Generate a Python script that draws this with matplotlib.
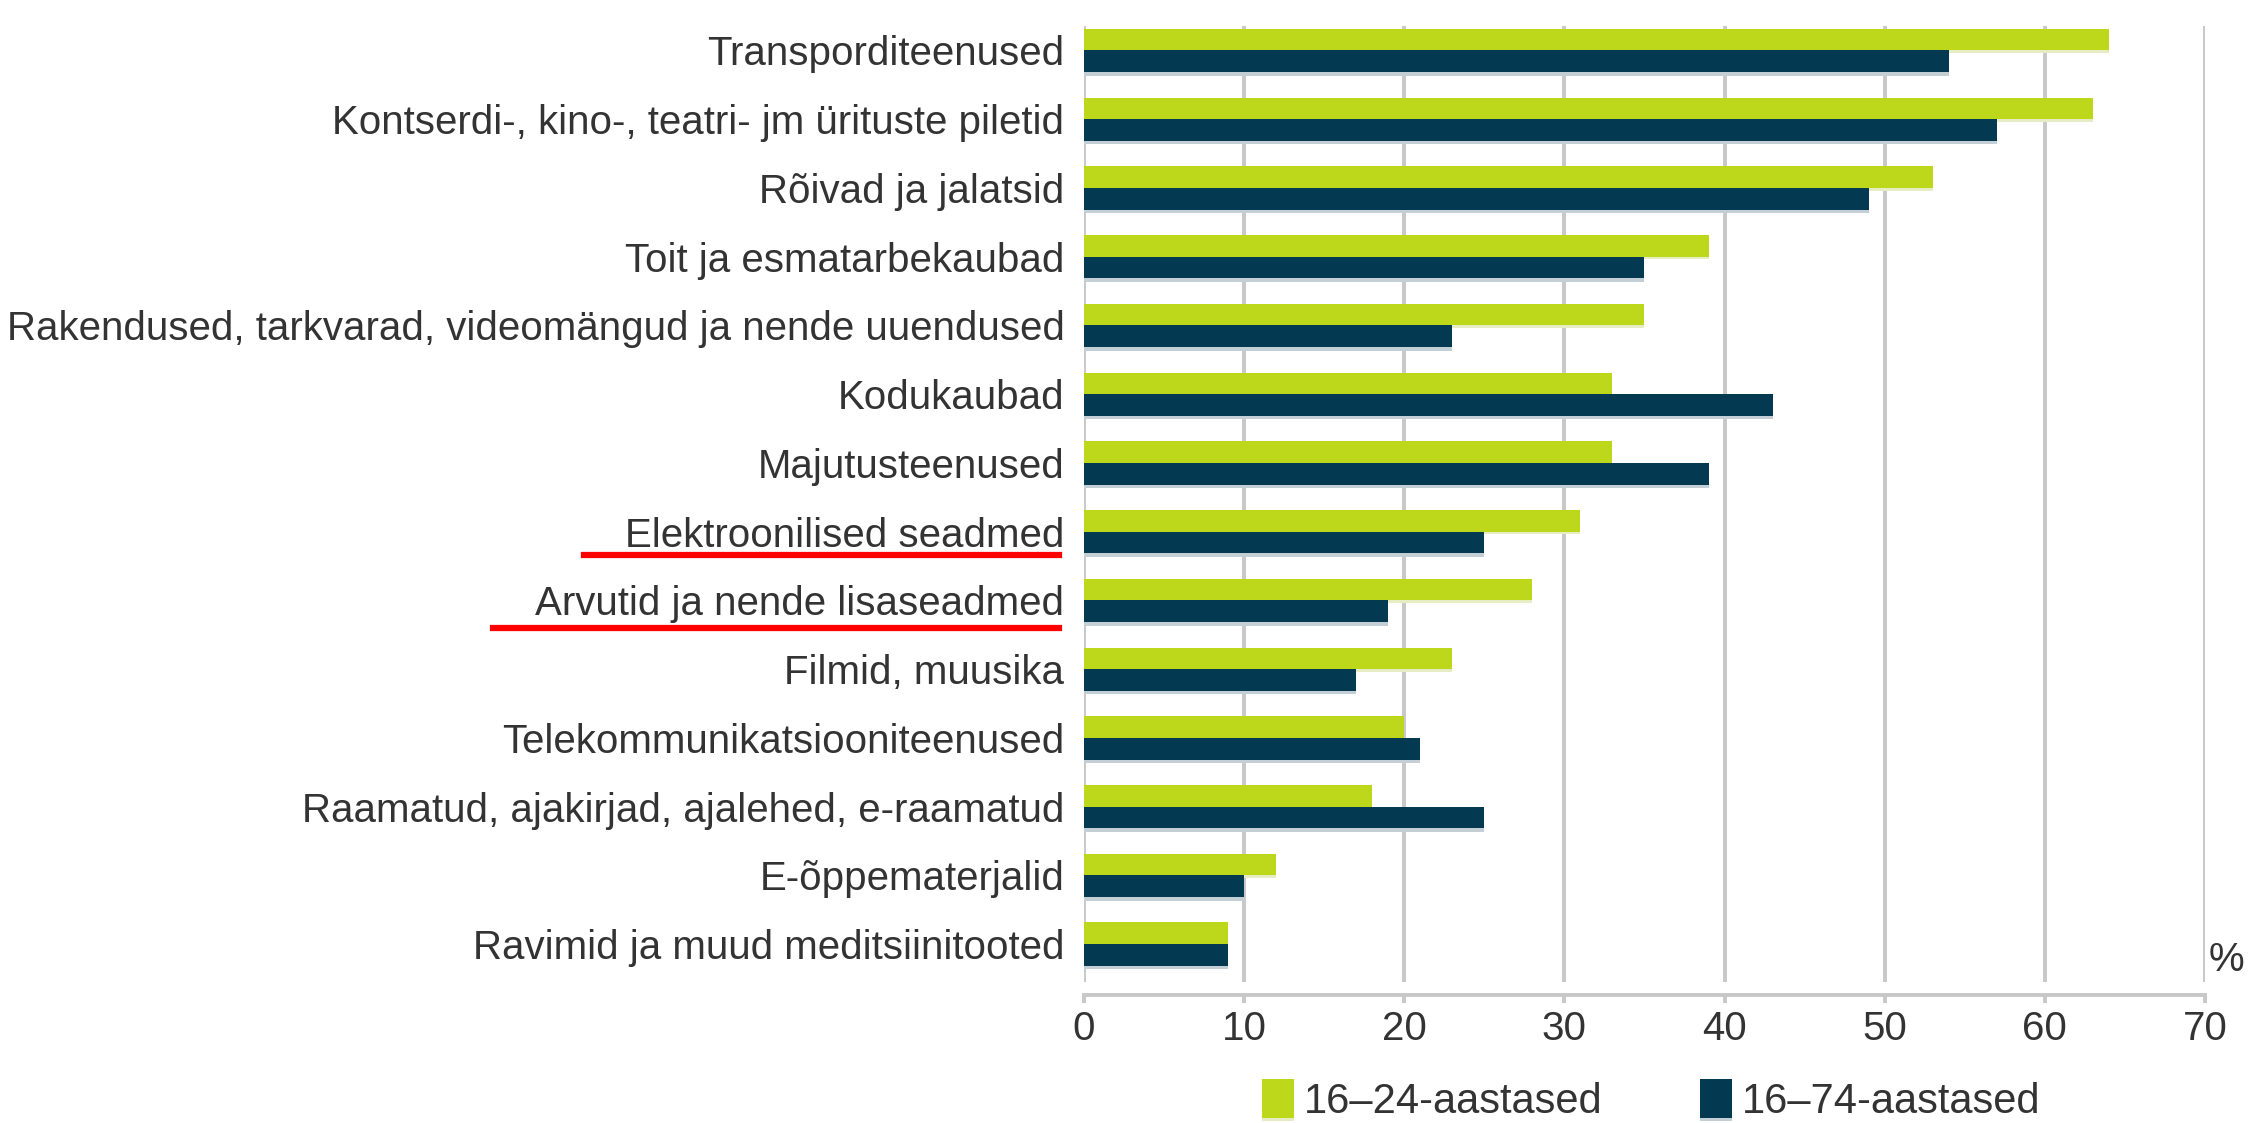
import numpy as np
import matplotlib
matplotlib.use("Agg")
from matplotlib import pyplot as plt
from matplotlib import transforms
from matplotlib.lines import Line2D
import matplotlib.patheffects as pe

plt.rcParams['font.family'] = ['Liberation Sans', 'DejaVu Sans']

categories = [
    "Transporditeenused",
    "Kontserdi-, kino-, teatri- jm ürituste piletid",
    "Rõivad ja jalatsid",
    "Toit ja esmatarbekaubad",
    "Rakendused, tarkvarad, videomängud ja nende uuendused",
    "Kodukaubad",
    "Majutusteenused",
    "Elektroonilised seadmed",
    "Arvutid ja nende lisaseadmed",
    "Filmid, muusika",
    "Telekommunikatsiooniteenused",
    "Raamatud, ajakirjad, ajalehed, e-raamatud",
    "E-õppematerjalid",
    "Ravimid ja muud meditsiinitooted",
]
young = [64, 63, 53, 39, 35, 33, 33, 31, 28, 23, 20, 18, 12, 9]
allages = [54, 57, 49, 35, 23, 43, 39, 25, 19, 17, 21, 25, 10, 9]
series_names = ["16–24-aastased", "16–74-aastased"]
xticks = [0, 10, 20, 30, 40, 50, 60, 70]
underlined = ["Elektroonilised seadmed", "Arvutid ja nende lisaseadmed"]

green = '#bdd71b'
navy = '#033a52'
grid = '#c8c8c8'
txt = '#333333'
fs = 29

fig = plt.figure(figsize=(22.6, 11.23), dpi=100)
ax = fig.add_axes([0.4796, 0.1256, 0.4961, 0.8512])

y = np.arange(len(categories))
h = 0.315
ax.barh(y - h / 2, young, height=h, color=green, label=series_names[0], zorder=3,
        path_effects=[pe.SimplePatchShadow(offset=(0, -2), shadow_rgbFace='#e6edc4', alpha=1), pe.Normal()])
ax.barh(y + h / 2, allages, height=h, color=navy, label=series_names[1], zorder=3,
        path_effects=[pe.SimplePatchShadow(offset=(0, -2.5), shadow_rgbFace='#c3ced5', alpha=1), pe.Normal()])

ax.set_ylim(13.55, -0.355)
ax.set_xlim(0, 70)
ax.set_xticks(xticks)
ax.set_yticks(y)
ax.set_yticklabels(categories, fontsize=fs, color=txt)
ax.tick_params(axis='y', length=0, pad=14)
ax.tick_params(axis='x', labelsize=fs, labelcolor=txt, color=grid, width=2.8, length=6, pad=5)
ax.grid(axis='x', color=grid, linewidth=2.8, zorder=0)
for s in ['top', 'right', 'left']:
    ax.spines[s].set_visible(False)
ax.spines['bottom'].set_position(('outward', 9.5))
ax.spines['bottom'].set_color(grid)
ax.spines['bottom'].set_linewidth(2.8)

# red underlines under two labels
tr = transforms.blended_transform_factory(ax.transAxes, ax.transData)
starts = {"Elektroonilised seadmed": -0.446, "Arvutid ja nende lisaseadmed": -0.527}
offs = {"Elektroonilised seadmed": 0.34, "Arvutid ja nende lisaseadmed": 0.40}
for name in underlined:
    i = categories.index(name)
    ax.add_line(Line2D([starts[name], -0.022], [i + offs[name], i + offs[name]],
                       transform=tr, color='#ff0000', linewidth=4.5, clip_on=False))

fig.text(0.985, 0.145, "%", fontsize=fs, color=txt, ha='center', va='center')

fig.legend(loc='center', bbox_to_anchor=(0.7306, 0.02), ncol=2, frameon=False,
           fontsize=30, handlelength=0.77, handleheight=1.05, handletextpad=0.24,
           columnspacing=2.35, labelcolor=txt)

fig.savefig("out.png", dpi=100)
